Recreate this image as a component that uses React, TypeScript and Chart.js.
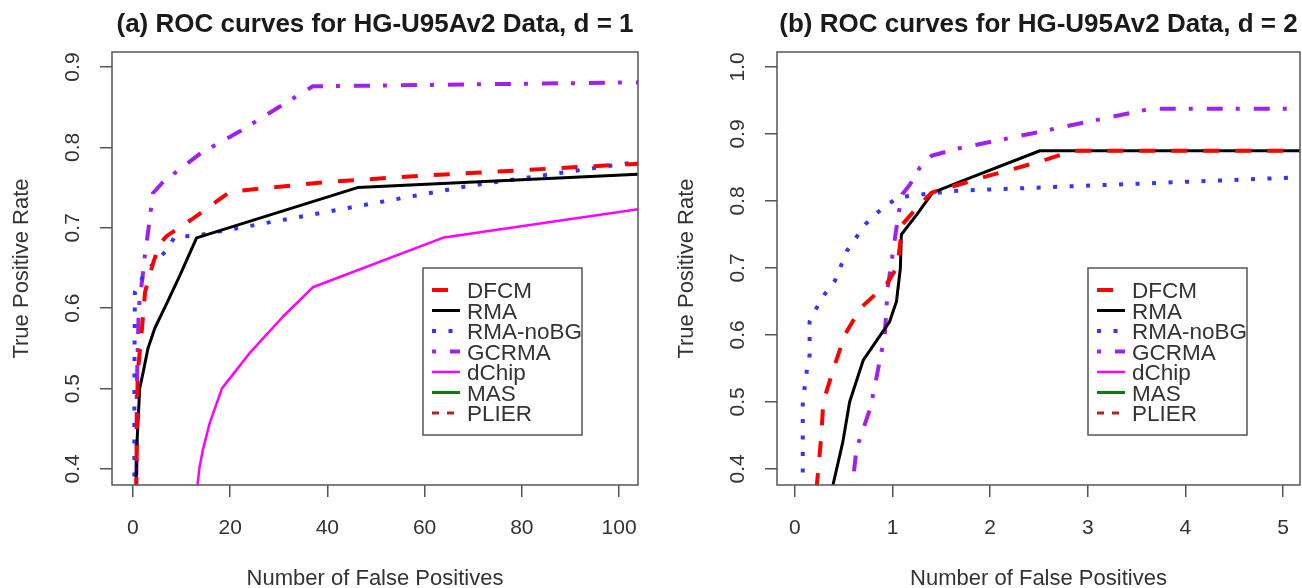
import React, { useEffect, useRef } from "react";
import { Chart, registerables } from "chart.js";

Chart.register(...registerables);

// ---------- data ----------
const seriesNames = ["DFCM", "RMA", "RMA-noBG", "GCRMA", "dChip", "MAS", "PLIER"];

const titleA = "(a) ROC curves for HG-U95Av2 Data, d = 1";
const titleB = "(b) ROC curves for HG-U95Av2 Data, d = 2";
const xAxisLabel = "Number of False Positives";
const yAxisLabel = "True Positive Rate";

const xTicksA = [0, 20, 40, 60, 80, 100];
const xTickLabelsA = ["0", "20", "40", "60", "80", "100"];
const yTicksA = [0.4, 0.5, 0.6, 0.7, 0.8, 0.9];
const yTickLabelsA = ["0.4", "0.5", "0.6", "0.7", "0.8", "0.9"];

const xTicksB = [0, 1, 2, 3, 4, 5];
const xTickLabelsB = ["0", "1", "2", "3", "4", "5"];
const yTicksB = [0.4, 0.5, 0.6, 0.7, 0.8, 0.9, 1.0];
const yTickLabelsB = ["0.4", "0.5", "0.6", "0.7", "0.8", "0.9", "1.0"];

// panel (a), d = 1
const aDfcmX = [0.7, 0.8, 1.0, 1.8, 2.5, 4.1, 5.5, 7, 12, 20, 40, 60, 105];
const aDfcmY = [0.37, 0.45, 0.52, 0.57, 0.62, 0.655, 0.68, 0.69, 0.71, 0.745, 0.757, 0.765, 0.78];
const aRmaX = [0.6, 0.9, 1.4, 2.1, 3.1, 4.5, 6.5, 9.6, 13.1, 46.2, 105];
const aRmaY = [0.37, 0.44, 0.5, 0.52, 0.55, 0.575, 0.6, 0.64, 0.6875, 0.75, 0.767];
const aNoBgX = [0.3, 0.3, 0.4, 2.5, 4.9, 7, 8.6, 13, 40, 69, 105];
const aNoBgY = [0.37, 0.5, 0.62, 0.644, 0.66, 0.672, 0.689, 0.69, 0.72, 0.752, 0.783];
const aGcrmaX = [0.7, 0.8, 1.2, 2.0, 2.5, 2.9, 3.5, 4.1, 6.2, 14, 22, 30, 37, 105];
const aGcrmaY = [0.37, 0.5, 0.6, 0.64, 0.668, 0.685, 0.713, 0.743, 0.757, 0.793, 0.82, 0.85, 0.876, 0.881];
const aDchipX = [13.1, 13.7, 14.4, 15.8, 18.3, 20.5, 24, 30.8, 37, 64, 105];
const aDchipY = [0.37, 0.402, 0.424, 0.457, 0.5, 0.517, 0.544, 0.589, 0.626, 0.688, 0.724];
const aMasX: number[] = [];
const aMasY: number[] = [];
const aPlierX: number[] = [];
const aPlierY: number[] = [];

// panel (b), d = 2
const bDfcmX = [0.22, 0.24, 0.27, 0.29, 0.39, 0.51, 0.67, 0.94, 1.04, 1.06, 1.1, 1.25, 1.4, 1.69, 1.97, 2.27, 2.58, 2.85, 5.3];
const bDfcmY = [0.37, 0.4, 0.45, 0.5, 0.547, 0.6, 0.64, 0.676, 0.7, 0.715, 0.765, 0.79, 0.8125, 0.825, 0.837, 0.849, 0.862, 0.875, 0.875];
const bRmaX = [0.38, 0.49, 0.56, 0.7, 0.97, 1.04, 1.08, 1.09, 1.25, 1.41, 1.8, 2.51, 5.3];
const bRmaY = [0.37, 0.44, 0.5, 0.5625, 0.62, 0.65, 0.7, 0.75, 0.78, 0.8125, 0.835, 0.875, 0.875];
const bNoBgX = [0.08, 0.08, 0.12, 0.15, 0.15, 0.22, 0.31, 0.41, 0.53, 0.72, 0.84, 0.97, 1.08, 1.62, 5.3];
const bNoBgY = [0.37, 0.5, 0.545, 0.57, 0.62, 0.64, 0.662, 0.681, 0.725, 0.765, 0.782, 0.797, 0.806, 0.815, 0.836];
const bGcrmaX = [0.57, 0.6, 0.63, 0.7, 0.77, 0.82, 0.87, 0.92, 0.95, 1.0, 1.06, 1.1, 1.18, 1.28, 1.4, 1.66, 2.4, 3.26, 3.64, 5.3];
const bGcrmaY = [0.37, 0.39, 0.43, 0.46, 0.49, 0.525, 0.5625, 0.6, 0.67, 0.72, 0.78, 0.81, 0.825, 0.85, 0.8675, 0.878, 0.9, 0.926, 0.9375, 0.9375];
const bDchipX: number[] = [];
const bDchipY: number[] = [];
const bMasX: number[] = [];
const bMasY: number[] = [];
const bPlierX: number[] = [];
const bPlierY: number[] = [];

// ---------- styles ----------
const seriesStyles = [
  { color: "#ff0000", width: 4, dash: [16, 16] },
  { color: "#000000", width: 3, dash: [] as number[] },
  { color: "#3434ff", width: 4, dash: [4, 12.5] },
  { color: "#a020f0", width: 4, dash: [4, 14, 16, 13] },
  { color: "#ff00ff", width: 2.5, dash: [] as number[] },
  { color: "#0a7a0a", width: 3, dash: [] as number[] },
  { color: "#b22222", width: 3, dash: [7, 8] },
];

const FONT = "'Liberation Sans', Arial, Helvetica, sans-serif";

type PanelProps = {
  left: number;
  title: string;
  xs: number[][];
  ys: number[][];
  xTicks: number[];
  xTickLabels: string[];
  yTicks: number[];
  yTickLabels: string[];
  xMin: number;
  xMax: number;
  yMin: number;
  yMax: number;
  yAxisWidth: number;
  padRight: number;
};

function Panel(p: PanelProps) {
  const ref = useRef<HTMLCanvasElement | null>(null);
  useEffect(() => {
    const canvas = ref.current;
    if (!canvas) return;
    const datasets = seriesNames.map((name, i) => ({
      label: name,
      data: p.xs[i].map((x, j) => ({ x, y: p.ys[i][j] })),
      borderColor: seriesStyles[i].color,
      backgroundColor: seriesStyles[i].color,
      borderWidth: seriesStyles[i].width,
      borderDash: seriesStyles[i].dash,
      borderCapStyle: "butt" as const,
      borderJoinStyle: "round" as const,
      pointRadius: 0,
      pointHoverRadius: 0,
      tension: 0,
      fill: false,
      clip: 0,
    }));

    const rPlugin = {
      id: "rstyle",
      afterDraw(chart: any) {
        const { ctx, chartArea: a, scales } = chart;
        const sx = scales.x;
        const sy = scales.y;
        const cx = (a.left + a.right) / 2;
        const cy = (a.top + a.bottom) / 2;
        ctx.save();
        // box
        ctx.strokeStyle = "#555";
        ctx.lineWidth = 1.5;
        ctx.setLineDash([]);
        ctx.strokeRect(a.left, a.top, a.right - a.left, a.bottom - a.top);
        // title
        ctx.fillStyle = "#1a1a1a";
        ctx.font = `bold 26px ${FONT}`;
        ctx.textAlign = "center";
        ctx.textBaseline = "alphabetic";
        ctx.fillText(p.title, cx, 32);
        // x tick labels
        ctx.fillStyle = "#333";
        ctx.font = `21px ${FONT}`;
        sx.ticks.forEach((t: any, i: number) => {
          ctx.fillText(p.xTickLabels[i] ?? String(t.value), sx.getPixelForValue(t.value), a.bottom + 49);
        });
        // x title
        ctx.font = `22px ${FONT}`;
        ctx.fillText(xAxisLabel, cx, a.bottom + 100);
        // y tick labels (rotated)
        ctx.font = `21px ${FONT}`;
        sy.ticks.forEach((t: any, i: number) => {
          ctx.save();
          ctx.translate(a.left - 33, sy.getPixelForValue(t.value));
          ctx.rotate(-Math.PI / 2);
          ctx.fillText(p.yTickLabels[i] ?? String(t.value), 0, 0);
          ctx.restore();
        });
        // y title
        ctx.font = `22px ${FONT}`;
        ctx.save();
        ctx.translate(a.left - 84, cy);
        ctx.rotate(-Math.PI / 2);
        ctx.fillText(yAxisLabel, 0, 0);
        ctx.restore();
        // legend
        const lx = a.left + 311;
        const ly = a.top + 216;
        const lw = 159;
        const lh = 167;
        ctx.fillStyle = "#fff";
        ctx.fillRect(lx, ly, lw, lh);
        ctx.strokeStyle = "#555";
        ctx.lineWidth = 1.5;
        ctx.strokeRect(lx, ly, lw, lh);
        ctx.textAlign = "left";
        ctx.font = `22.5px ${FONT}`;
        seriesNames.forEach((name, i) => {
          const y = ly + 22 + i * 20.5;
          const st = seriesStyles[i];
          ctx.save();
          ctx.beginPath();
          ctx.rect(lx + 8, y - 6, 29, 12);
          ctx.clip();
          ctx.strokeStyle = st.color;
          ctx.lineWidth = st.width;
          ctx.lineCap = "butt";
          ctx.setLineDash(st.dash);
          ctx.beginPath();
          ctx.moveTo(lx + 9, y);
          ctx.lineTo(lx + 37, y);
          ctx.stroke();
          ctx.restore();
          ctx.fillStyle = "#333";
          ctx.fillText(name, lx + 44, y + 8);
        });
        ctx.restore();
      },
    };

    const chart = new Chart(canvas, {
      type: "line",
      data: { datasets: datasets as any },
      options: {
        responsive: false,
        animation: false,
        devicePixelRatio: 1,
        events: [],
        layout: { padding: { top: 52, left: 0, right: p.padRight, bottom: 0 } },
        plugins: { legend: { display: false }, tooltip: { enabled: false }, title: { display: false } },
        scales: {
          x: {
            type: "linear",
            min: p.xMin,
            max: p.xMax,
            afterBuildTicks: (s: any) => {
              s.ticks = p.xTicks.map((v) => ({ value: v }));
            },
            afterFit: (s: any) => {
              s.height = 103;
            },
            ticks: { display: false },
            grid: { drawOnChartArea: false, drawTicks: true, tickLength: 12, color: "#555", lineWidth: 1.5 },
            border: { display: false },
          },
          y: {
            type: "linear",
            min: p.yMin,
            max: p.yMax,
            afterBuildTicks: (s: any) => {
              s.ticks = p.yTicks.map((v) => ({ value: v }));
            },
            afterFit: (s: any) => {
              s.width = p.yAxisWidth;
            },
            ticks: { display: false },
            grid: { drawOnChartArea: false, drawTicks: true, tickLength: 12, color: "#555", lineWidth: 1.5 },
            border: { display: false },
          },
        },
      },
      plugins: [rPlugin],
    });
    return () => chart.destroy();
  }, []);
  return (
    <canvas
      ref={ref}
      width={651}
      height={588}
      style={{ position: "absolute", left: p.left, top: 0, width: 651, height: 588 }}
    />
  );
}

export default function App() {
  return (
    <div style={{ position: "absolute", left: 0, top: 0, width: 1302, height: 588, background: "#fff", overflow: "hidden" }}>
      <Panel
        left={0}
        title={titleA}
        xs={[aDfcmX, aRmaX, aNoBgX, aGcrmaX, aDchipX, aMasX, aPlierX]}
        ys={[aDfcmY, aRmaY, aNoBgY, aGcrmaY, aDchipY, aMasY, aPlierY]}
        xTicks={xTicksA}
        xTickLabels={xTickLabelsA}
        yTicks={yTicksA}
        yTickLabels={yTickLabelsA}
        xMin={-4.3}
        xMax={103.9}
        yMin={0.38}
        yMax={0.9187}
        yAxisWidth={112}
        padRight={13}
      />
      <Panel
        left={651}
        title={titleB}
        xs={[bDfcmX, bRmaX, bNoBgX, bGcrmaX, bDchipX, bMasX, bPlierX]}
        ys={[bDfcmY, bRmaY, bNoBgY, bGcrmaY, bDchipY, bMasY, bPlierY]}
        xTicks={xTicksB}
        xTickLabels={xTickLabelsB}
        yTicks={yTicksB}
        yTickLabels={yTickLabelsB}
        xMin={-0.184}
        xMax={5.174}
        yMin={0.376}
        yMax={1.0224}
        yAxisWidth={126}
        padRight={2}
      />
    </div>
  );
}
